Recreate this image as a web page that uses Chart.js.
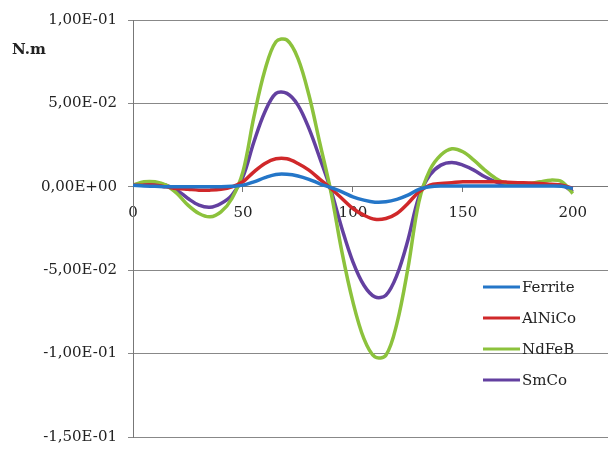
<!DOCTYPE html>
<html>
<head>
<meta charset="utf-8">
<script src="https://cdn.jsdelivr.net/npm/chart.js@4/dist/chart.umd.min.js"></script>
<style>
  html,body{margin:0;padding:0;background:#fff;overflow:hidden}
  #wrap{width:608px;height:457px;position:relative}
</style>
</head>
<body>
<div id="wrap"><canvas id="c"></canvas></div>
<script>
// angle / position steps
const positions = [0,5,10,15,20,25,30,35,40,45,50,55,60,65,70,75,80,85,90,95,100,
  105,110,115,120,125,130,135,140,145,150,155,160,165,170,175,180,185,190,195,200];

// torque (N.m) per magnet type
const ferrite = [0.001,0.0005,0.0003,0,0,0,0,0,0,0.0003,0.001,0.003,0.0055,0.0074,0.0075,0.0065,0.0045,0.0018,-0.0005,-0.003,-0.006,
  -0.008,-0.0092,-0.009,-0.0075,-0.005,-0.0015,0,0.0005,0.0005,0.0005,0.0005,0.0005,0.0005,0.0005,0.0005,0.0005,0.0005,0.0005,0.0003,-0.001];
const alnico = [0.001,0.001,0.001,0,-0.001,-0.0015,-0.002,-0.002,-0.0015,0,0.003,0.009,0.014,0.0168,0.0168,0.014,0.010,0.0045,-0.001,-0.007,-0.013,
  -0.017,-0.0195,-0.019,-0.016,-0.010,-0.003,0.001,0.002,0.0025,0.003,0.003,0.003,0.003,0.0028,0.0025,0.0023,0.002,0.0015,0.001,-0.001];
const ndfeb = [0.001,0.003,0.003,0.001,-0.004,-0.011,-0.016,-0.018,-0.015,-0.007,0.009,0.042,0.070,0.087,0.088,0.077,0.055,0.026,-0.003,-0.039,-0.069,
  -0.091,-0.102,-0.101,-0.082,-0.049,-0.009,0.010,0.019,0.0228,0.021,0.016,0.010,0.005,0.002,0.002,0.002,0.003,0.004,0.003,-0.004];
const smco = [0.001,0.002,0.002,0.001,-0.002,-0.007,-0.011,-0.0123,-0.010,-0.005,0.006,0.027,0.045,0.056,0.056,0.049,0.035,0.017,-0.002,-0.025,-0.045,
  -0.059,-0.066,-0.065,-0.053,-0.032,-0.006,0.007,0.013,0.0146,0.013,0.010,0.006,0.003,0.001,0.001,0.001,0.001,0.001,0.001,-0.003];

const seriesNames = ['Ferrite','AlNiCo','NdFeB','SmCo'];
const seriesColors = ['#2476c8','#d0282a','#8cc23c','#6340a0'];
const yTicks = [0.1,0.05,0,-0.05,-0.1,-0.15];
const xTicks = [0,50,100,150,200];

const serif = '"DejaVu Serif", serif';

function fmtSci(v){
  if (v === 0) return '0,00E+00';
  let s = v.toExponential(2).replace('.',',');
  s = s.replace(/e([+-])(\d)$/, 'E$10$2').replace(/e([+-])(\d\d)$/, 'E$1$2');
  return s;
}

const extras = {
  id:'extras',
  afterDraw(chart){
    const ctx = chart.ctx;
    ctx.save();
    ctx.fillStyle = '#222';
    ctx.font = 'bold 15px ' + serif;
    ctx.textBaseline = 'middle';
    ctx.fillText('N.m', 12, 50);
    // legend
    ctx.font = '15px ' + serif;
    chart.data.datasets.forEach((ds, i) => {
      const y = 287 + i*31;
      ctx.strokeStyle = ds.borderColor;
      ctx.lineWidth = 3;
      ctx.beginPath(); ctx.moveTo(483, y); ctx.lineTo(520, y); ctx.stroke();
      ctx.fillStyle = '#222';
      ctx.fillText(ds.label, 522, y + 1);
    });
    ctx.restore();
  }
};

new Chart(document.getElementById('c'), {
  type:'line',
  data:{
    datasets:[ferrite, alnico, ndfeb, smco].map((arr, i) => ({
      label: seriesNames[i],
      data: arr.map((v, k) => ({x: positions[k], y: v})),
      borderColor: seriesColors[i],
      backgroundColor: seriesColors[i],
      borderWidth: 3.5,
      pointRadius: 0,
      tension: 0.35,
      fill: false
    }))
  },
  options:{
    responsive:true,
    maintainAspectRatio:false,
    animation:false,
    layout:{ padding:{ left:0, right:0, top:15, bottom:15 } },
    plugins:{ legend:{ display:false }, tooltip:{ enabled:false } },
    scales:{
      x:{
        type:'linear',
        position:{ y:0 },
        min:0, max:216,
        afterBuildTicks: s => { s.ticks = xTicks.map(v => ({value:v})); },
        ticks:{ font:{ family:serif, size:15 }, color:'#222', padding:12, maxRotation:0 },
        grid:{ drawOnChartArea:false, drawTicks:true, tickLength:5, color:'#777' },
        border:{ display:true, color:'#777', width:1 }
      },
      y:{
        type:'linear',
        min:-0.15, max:0.1,
        afterBuildTicks: s => { s.ticks = yTicks.map(v => ({value:v})); },
        afterFit: s => { s.width = 133; },
        ticks:{ font:{ family:serif, size:15 }, color:'#222', padding:11, callback: v => fmtSci(v) },
        grid:{ color:'#888', lineWidth:1, tickLength:5 },
        border:{ display:true, color:'#777', width:1 }
      }
    }
  },
  plugins:[extras]
});
</script>
</body>
</html>
